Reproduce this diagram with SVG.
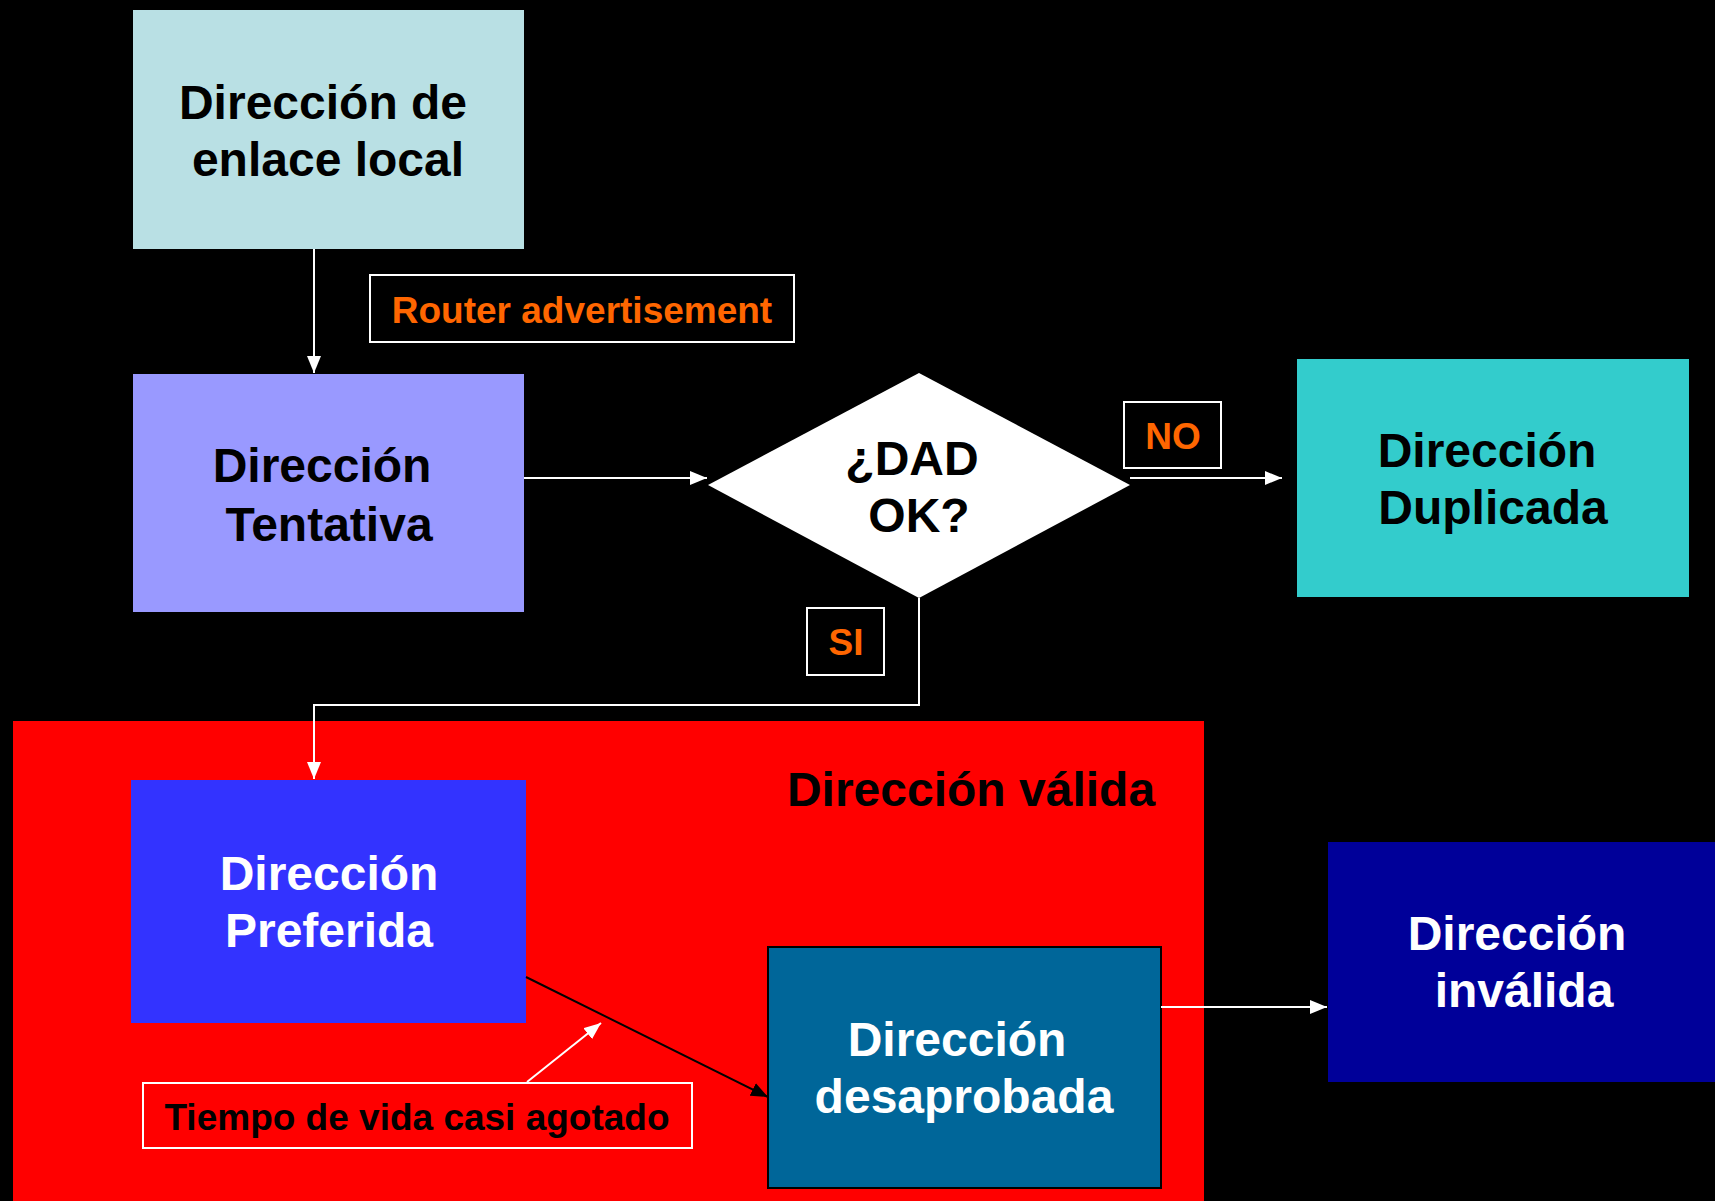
<svg xmlns="http://www.w3.org/2000/svg" width="1715" height="1201" viewBox="0 0 1715 1201">
<defs>
<style>
text{font-family:"Liberation Sans",Arial,sans-serif;font-weight:bold;text-anchor:middle}
.big{font-size:48px}
.lbl{font-size:37px;fill:#FF6600}
.lblbox{fill:#000;stroke:#fff;stroke-width:2}
.conn{fill:none;stroke:#fff;stroke-width:2}
</style>
<marker id="aw" viewBox="0 0 17 14" refX="17" refY="7" markerWidth="17" markerHeight="14" markerUnits="userSpaceOnUse" orient="auto"><path d="M0,0 L17,7 L0,14 z" fill="#fff"/></marker>
<marker id="ab" viewBox="0 0 17 14" refX="17" refY="7" markerWidth="17" markerHeight="14" markerUnits="userSpaceOnUse" orient="auto"><path d="M0,0 L17,7 L0,14 z" fill="#000"/></marker>
</defs>
<rect x="0" y="0" width="1715" height="1201" fill="#000"/>
<g id="valida">
<rect x="13" y="721" width="1191" height="480" fill="#FF0000"/>
<text class="big" x="971" y="806" fill="#000">Dirección válida</text>
</g>
<g id="enlace">
<rect x="133" y="10" width="391" height="239" fill="#B9E0E4"/>
<text class="big" fill="#000"><tspan x="323" y="119">Dirección de</tspan><tspan x="328" y="176">enlace local</tspan></text>
</g>
<g id="tentativa">
<rect x="133" y="374" width="391" height="238" fill="#9999FF"/>
<text class="big" fill="#000"><tspan x="322" y="482">Dirección</tspan><tspan x="329" y="541">Tentativa</tspan></text>
</g>
<g id="dad">
<polygon points="919,373 1130,485 919,598 708,485" fill="#fff"/>
<text class="big" fill="#000"><tspan x="912" y="475">¿DAD</tspan><tspan x="919" y="532">OK?</tspan></text>
</g>
<g id="duplicada">
<rect x="1297" y="359" width="392" height="238" fill="#33CCCC"/>
<text class="big" fill="#000"><tspan x="1487" y="467">Dirección</tspan><tspan x="1493" y="524">Duplicada</tspan></text>
</g>
<g id="preferida">
<rect x="131" y="780" width="395" height="243" fill="#3333FF"/>
<text class="big" fill="#fff"><tspan x="329" y="890">Dirección</tspan><tspan x="329" y="947">Preferida</tspan></text>
</g>
<g id="desaprobada">
<rect x="768" y="947" width="393" height="241" fill="#006699" stroke="#000" stroke-width="2"/>
<text class="big" fill="#fff"><tspan x="957" y="1056">Dirección</tspan><tspan x="964" y="1113">desaprobada</tspan></text>
</g>
<g id="invalida">
<rect x="1328" y="842" width="387" height="240" fill="#000099"/>
<text class="big" fill="#fff"><tspan x="1517" y="950">Dirección</tspan><tspan x="1524" y="1007">inválida</tspan></text>
</g>
<g id="connectors">
<line class="conn" x1="314" y1="249" x2="314" y2="373" marker-end="url(#aw)"/>
<line class="conn" x1="524" y1="478" x2="707" y2="478" marker-end="url(#aw)"/>
<line class="conn" x1="1130" y1="478" x2="1282" y2="478" marker-end="url(#aw)"/>
<polyline class="conn" points="919,598 919,705 314,705 314,779" marker-end="url(#aw)"/>
<line class="conn" x1="1161" y1="1007" x2="1327" y2="1007" marker-end="url(#aw)"/>
<line x1="526" y1="977" x2="768" y2="1097" stroke="#000" stroke-width="2" marker-end="url(#ab)"/>
<line class="conn" x1="527" y1="1082" x2="601" y2="1023" marker-end="url(#aw)"/>
</g>
<g id="label-router">
<rect class="lblbox" x="370" y="275" width="424" height="67"/>
<text class="lbl" x="582" y="323">Router advertisement</text>
</g>
<g id="label-no">
<rect class="lblbox" x="1124" y="402" width="97" height="66"/>
<text class="lbl" x="1173" y="449">NO</text>
</g>
<g id="label-si">
<rect class="lblbox" x="807" y="608" width="77" height="67"/>
<text class="lbl" x="846" y="655">SI</text>
</g>
<g id="label-tiempo">
<rect x="143" y="1083" width="549" height="65" fill="#FF0000" stroke="#fff" stroke-width="2"/>
<text x="417" y="1130" font-size="37" fill="#000">Tiempo de vida casi agotado</text>
</g>
</svg>
